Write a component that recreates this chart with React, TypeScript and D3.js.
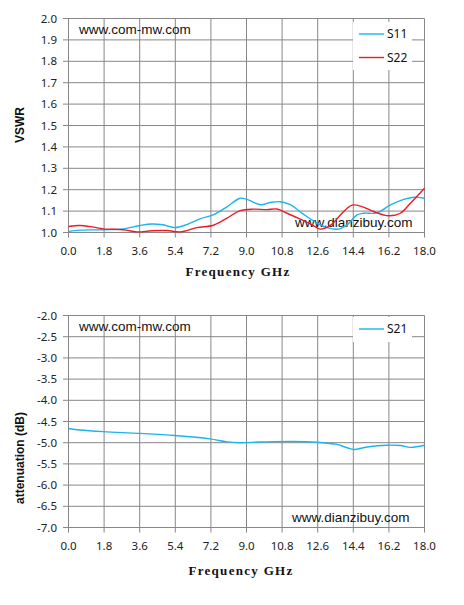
import { scaleLinear, line as d3Line, curveCatmullRom, range } from 'd3';

// S11 / S22 VSWR readings (frequency in GHz)
const s11Freq = [0, 0.58, 1.75, 2.76, 3.62, 4.21, 4.78, 5.39, 5.98, 6.66, 7.32, 8.01, 8.68, 9.02, 9.7, 10.2, 10.71, 11.21, 11.87, 12.57, 13.07, 13.66, 14.09, 14.59, 14.93, 15.6, 16.28, 16.95, 17.46, 18];
const s11Vswr = [1.005, 1.011, 1.013, 1.017, 1.033, 1.04, 1.036, 1.023, 1.037, 1.064, 1.082, 1.12, 1.16, 1.155, 1.13, 1.14, 1.144, 1.13, 1.086, 1.044, 1.023, 1.016, 1.036, 1.082, 1.09, 1.092, 1.129, 1.155, 1.165, 1.16];
const s22Freq = [0, 0.58, 1.26, 1.76, 2.77, 3.45, 4.21, 4.97, 5.65, 6.49, 7.33, 8.01, 8.68, 9.36, 10.03, 10.54, 11.05, 11.72, 12.31, 12.73, 13.24, 13.83, 14.34, 14.84, 15.43, 16.19, 16.78, 17.29, 18];
const s22Vswr = [1.028, 1.033, 1.025, 1.017, 1.013, 1.003, 1.008, 1.009, 1.003, 1.023, 1.034, 1.067, 1.102, 1.109, 1.107, 1.11, 1.09, 1.062, 1.036, 1.016, 1.033, 1.09, 1.128, 1.121, 1.098, 1.078, 1.09, 1.137, 1.207];

// S21 attenuation readings
const s21Freq = [0, 0.58, 1.77, 3.62, 5.39, 7.16, 8.01, 8.68, 9.7, 11.38, 12.57, 13.58, 14.09, 14.43, 15.1, 16.11, 16.78, 17.29, 18];
const s21Db = [-4.664, -4.7, -4.74, -4.78, -4.83, -4.91, -4.98, -5.0, -4.985, -4.97, -4.99, -5.04, -5.12, -5.16, -5.1, -5.06, -5.065, -5.11, -5.06];

const freqTicks = range(0, 11).map((i) => +(i * 1.8).toFixed(1));
const vswrTicks = range(0, 11).map((i) => +(1 + i * 0.1).toFixed(1));
const dbTicks = range(0, 11).map((i) => +(-7 + i * 0.5).toFixed(1));

const GRID = '#878787';
const BLUE = '#1cb4ec';
const RED = '#ec1c24';
const TICK_FONT = '"Noto Sans", sans-serif';
const TITLE_FONT = '"Liberation Serif", serif';

const x = scaleLinear().domain([0, 18]).range([68.5, 424.5]);

interface Series {
  freq: number[];
  vals: number[];
  color: string;
}

interface PanelProps {
  y: any;
  ticks: number[];
  series: Series[];
  legend: { label: string; color: string }[];
  legendBox: [number, number, number, number];
  ylabel: string;
  ylabelY: number;
  marks: [string, number, number][];
  xTitleY: number;
  xTitleX: number;
}

const Panel = ({ y, ticks, series, legend, legendBox, ylabel, ylabelY, marks, xTitleY, xTitleX }: PanelProps) => {
  const [y0, y1] = y.range();
  const [bx, by, bw, bh] = legendBox;
  return (
    <g>
      {/* horizontal grid + y ticks */}
      {ticks.map((t) => (
        <g key={'h' + t}>
          <line x1={63} x2={x(18)} y1={y(t)} y2={y(t)} stroke={GRID} />
          <text x={57} y={y(t)} dy="0.35em" textAnchor="end" fontSize={11.5} fontFamily={TICK_FONT} fill="#222">
            {t.toFixed(1)}
          </text>
        </g>
      ))}
      {/* vertical grid + x ticks */}
      {freqTicks.map((f) => (
        <g key={'v' + f}>
          <line x1={x(f)} x2={x(f)} y1={y1} y2={y0 + 5} stroke={GRID} />
          <text x={x(f)} y={y0 + 22} textAnchor="middle" fontSize={11.5} fontFamily={TICK_FONT} fill="#222">
            {f.toFixed(1)}
          </text>
        </g>
      ))}
      {/* legend box hides grid */}
      <rect x={bx} y={by} width={bw} height={bh} fill="#fff" />
      {marks.map(([txt, mx, my]) => (
        <text key={txt + my} x={mx} y={my} fontSize={13.5} fontFamily='"Liberation Sans", sans-serif' fill="#111">
          {txt}
        </text>
      ))}
      {series.map((s, i) => {
        const pts = s.freq.map((f, j) => [f, s.vals[j]] as [number, number]);
        const path = d3Line<[number, number]>()
          .x((d) => x(d[0]))
          .y((d) => y(d[1]))
          .curve(curveCatmullRom.alpha(0.5))(pts);
        return <path key={i} d={path || ''} fill="none" stroke={s.color} strokeWidth={1.4} />;
      })}
      {legend.map((l, i) => (
        <g key={l.label}>
          <line x1={bx + 6} x2={bx + 31} y1={by + 12 + i * 23.5} y2={by + 12 + i * 23.5} stroke={l.color} strokeWidth={1.4} />
          <text x={bx + 34} y={by + 12 + i * 23.5} dy="0.35em" fontSize={12} fontFamily={TICK_FONT} fill="#111">
            {l.label}
          </text>
        </g>
      ))}
      <text
        transform={`translate(24, ${ylabelY}) rotate(-90)`}
        textAnchor="middle"
        fontSize={12}
        fontWeight="bold"
        fontFamily='"Liberation Sans", sans-serif'
        fill="#111"
      >
        {ylabel}
      </text>
      <text
        x={xTitleX}
        y={xTitleY}
        textAnchor="middle"
        fontSize={13}
        fontWeight="bold"
        letterSpacing={1.3}
        fontFamily={TITLE_FONT}
        fill="#111"
      >
        Frequency GHz
      </text>
    </g>
  );
};

const App = () => {
  const yTop = scaleLinear().domain([1, 2]).range([232.5, 18.5]);
  const yBot = scaleLinear().domain([-7, -2]).range([527.5, 315.5]);
  return (
    <svg width={464} height={605} style={{ position: 'absolute', left: 0, top: 0, background: '#fff' }}>
      <Panel
        y={yTop}
        ticks={vswrTicks}
        series={[
          { freq: s11Freq, vals: s11Vswr, color: BLUE },
          { freq: s22Freq, vals: s22Vswr, color: RED },
        ]}
        legend={[
          { label: 'S11', color: BLUE },
          { label: 'S22', color: RED },
        ]}
        legendBox={[353, 22, 59, 48]}
        ylabel="VSWR"
        ylabelY={125}
        marks={[
          ['www.com-mw.com', 79, 34],
          ['www.dianzibuy.com', 295, 227],
        ]}
        xTitleX={238}
        xTitleY={276}
      />
      <Panel
        y={yBot}
        ticks={dbTicks}
        series={[{ freq: s21Freq, vals: s21Db, color: BLUE }]}
        legend={[{ label: 'S21', color: BLUE }]}
        legendBox={[353, 317, 59, 25]}
        ylabel="attenuation (dB)"
        ylabelY={458}
        marks={[
          ['www.com-mw.com', 79, 331],
          ['www.dianzibuy.com', 292, 522],
        ]}
        xTitleX={241}
        xTitleY={575}
      />
    </svg>
  );
};

export default App;
